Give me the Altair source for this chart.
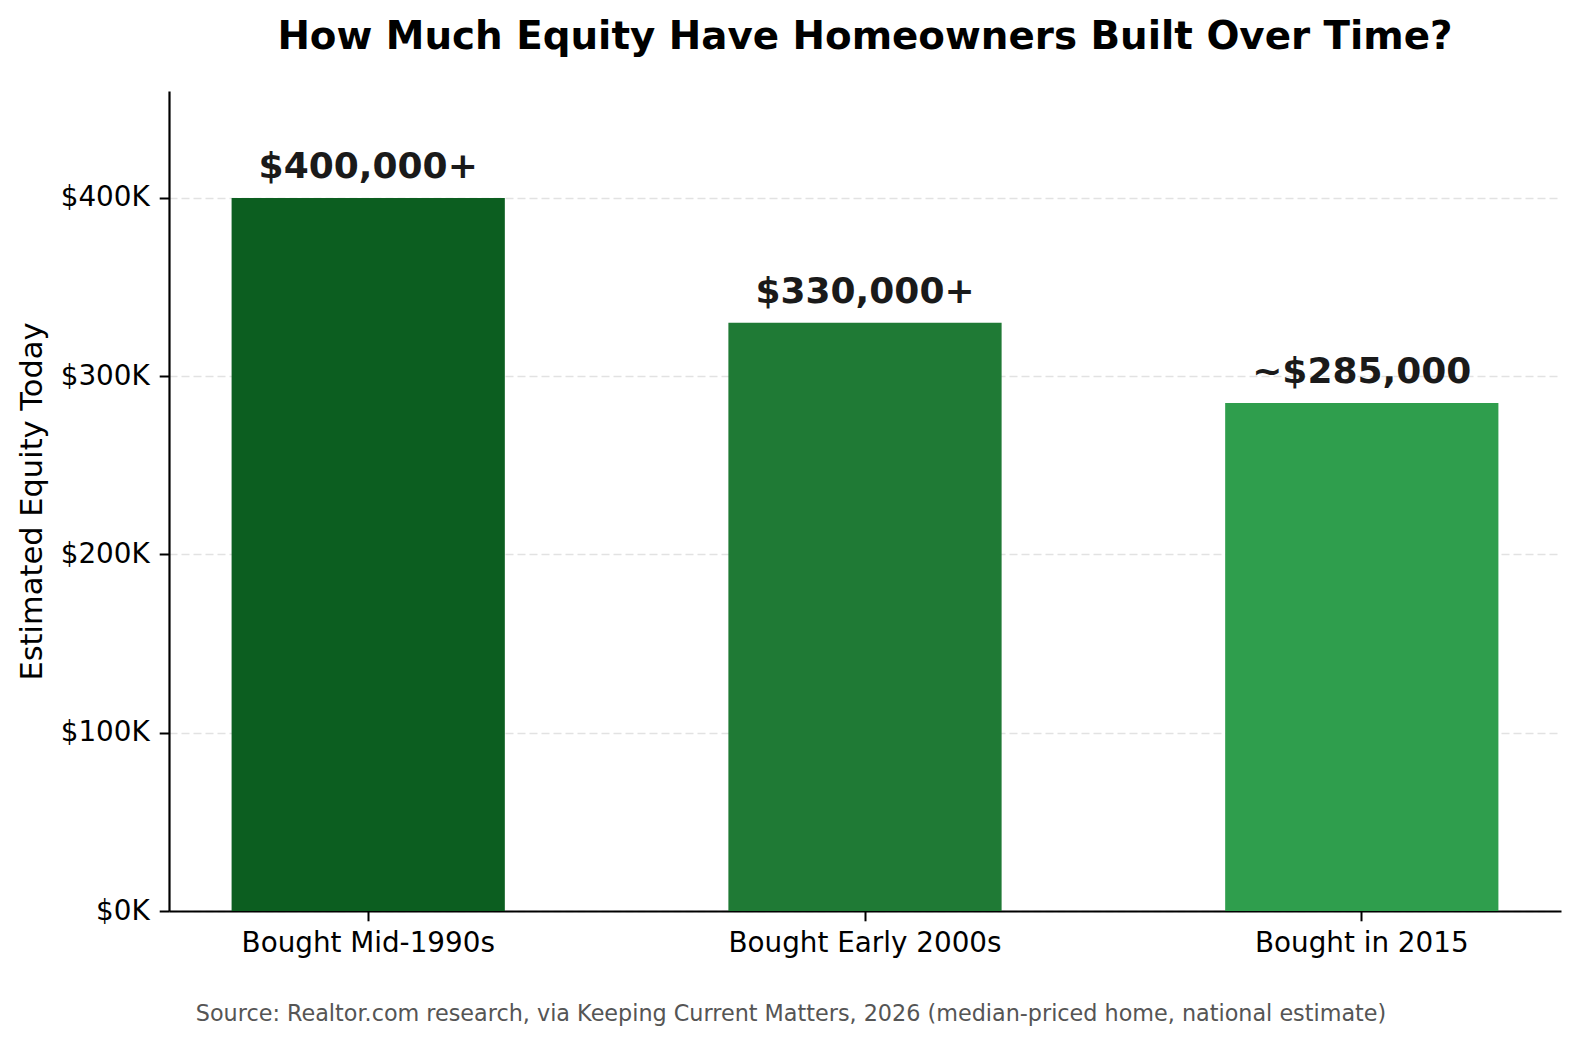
import pandas as pd
import altair as alt

# values
periods = ["Bought Mid-1990s", "Bought Early 2000s", "Bought in 2015"]
equity = [400000, 330000, 285000]
bar_labels = ["$400,000+", "$330,000+", "~$285,000"]
bar_colors = ["#0c5e20", "#1f7a35", "#2f9e4d"]
y_ticks = [0, 100000, 200000, 300000, 400000]
source_note = "Source: Realtor.com research, via Keeping Current Matters, 2026 (median-priced home, national estimate)"

df = pd.DataFrame({"period": periods, "equity": equity, "label": bar_labels})

FONT = "DejaVu Sans"
W, H = 1392, 820

x_enc = alt.X(
    "period:N",
    sort=periods,
    title=None,
    scale=alt.Scale(paddingInner=0.45, paddingOuter=0.126),
    axis=alt.Axis(
        labelAngle=0, labelFontSize=27.8, labelColor="black", labelPadding=9,
        labelLimit=0,
        tickSize=9.8, tickWidth=2, tickColor="black",
        domainColor="black", domainWidth=2.2, grid=False,
    ),
)
y_enc = alt.Y(
    "equity:Q",
    title="Estimated Equity Today",
    scale=alt.Scale(domain=[0, 460000], nice=False),
    axis=alt.Axis(
        values=y_ticks,
        labelExpr="'$' + format(datum.value / 1000, 'd') + 'K'",
        labelFontSize=27.8, labelColor="black", labelPadding=10,
        tickSize=9.8, tickWidth=2, tickColor="black",
        domainColor="black", domainWidth=2.2,
        grid=True, gridColor="#e2e2e2", gridWidth=1.6, gridDash=[8, 4],
        titleFontSize=30.5, titleFontWeight="normal", titleColor="black",
        titleAngle=-90, titleAlign="center", titleBaseline="alphabetic",
        titleX=-128, titleY=H / 2,
    ),
)

base = alt.Chart(df)

bars = base.mark_bar().encode(
    x=x_enc,
    y=y_enc,
    color=alt.Color("period:N", scale=alt.Scale(domain=periods, range=bar_colors), legend=None),
)

labels = base.mark_text(
    font=FONT, fontSize=36, fontWeight="bold", color="#1a1a1a",
    baseline="alphabetic", dy=-20,
).encode(
    x=alt.X("period:N", sort=periods),
    y="equity:Q",
    text="label:N",
)

note = alt.Chart(pd.DataFrame({"note": [source_note]})).mark_text(
    font=FONT, fontSize=22.3, color="#555555", baseline="alphabetic", align="center",
).encode(
    x=alt.value(622),
    y=alt.value(930),
    text="note:N",
)

chart = (bars + labels + note).properties(
    width=W,
    height=H,
    autosize=alt.AutoSizeParams(type="none"),
    padding={"left": 161, "top": 83, "right": 8, "bottom": 135},
    title=alt.TitleParams(
        "How Much Equity Have Homeowners Built Over Time?",
        font=FONT, fontSize=38.8, fontWeight="bold", color="black",
        anchor="middle", baseline="alphabetic", offset=3,
    ),
).configure(font=FONT).configure_view(stroke=None)

chart.save("out.html", embed_options={"renderer": "svg", "actions": False})
